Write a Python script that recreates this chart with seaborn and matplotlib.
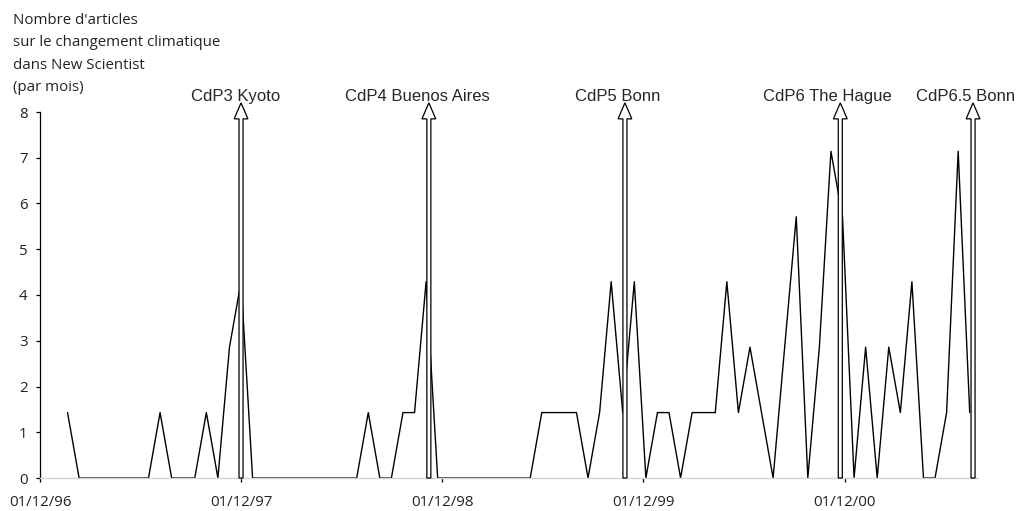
import pandas as pd
import matplotlib
matplotlib.use('Agg')
import matplotlib.pyplot as plt
import matplotlib.dates as mdates
from matplotlib.patches import FancyArrow
import seaborn as sns

# New Scientist climate articles, per month, one point every 3 weeks
first_date = '1997-01-20'
articles = [1.43, 0, 0, 0, 0, 0, 0, 0, 1.43, 0, 0, 0, 1.43, 0, 2.86, 4.29,
            0, 0, 0, 0, 0, 0, 0, 0, 0, 0, 1.43, 0, 0, 1.43, 1.43, 4.29,
            0, 0, 0, 0, 0, 0, 0, 0, 0, 1.43, 1.43, 1.43, 1.43, 0, 1.43, 4.29,
            1.43, 4.29, 0, 1.43, 1.43, 0, 1.43, 1.43, 1.43, 4.29, 1.43, 2.86, 1.43, 0, 2.86, 5.71,
            0, 2.86, 7.14, 5.71, 0, 2.86, 0, 2.86, 1.43, 4.29, 0, 0, 1.43, 7.14, 1.43]

# conferences of the parties
cop_labels = ['CdP3 Kyoto', 'CdP4 Buenos Aires', 'CdP5 Bonn', 'CdP6 The Hague', 'CdP6.5 Bonn']
cop_dates = ['1997-12-01', '1998-11-07', '1999-10-29', '2000-11-23', '2001-07-22']
label_shift = [-5, -11, -7, -13, -7]  # pixels, label centre vs arrow

tick_dates = ['1996-12-01', '1997-12-01', '1998-12-01', '1999-12-01', '2000-12-01']
ylabel_lines = ["Nombre d'articles", "sur le changement climatique",
                "dans New Scientist", "(par mois)"]

df = pd.DataFrame({'date': pd.date_range(first_date, periods=len(articles), freq='21D'),
                   'articles': articles})

sns.set_style('white')
plt.rcParams['font.family'] = ['Open Sans', 'DejaVu Sans']

fig = plt.figure(figsize=(10.18, 5.11), dpi=100)
ax = fig.add_axes([40 / 1018, 33 / 511, 938 / 1018, 366 / 511])

sns.lineplot(data=df, x='date', y='articles', color='black', linewidth=1.0, ax=ax, zorder=2)

# hollow arrows for each conference
for lab, d, sh in zip(cop_labels, cop_dates, label_shift):
    xd = mdates.date2num(pd.Timestamp(d))
    arr = FancyArrow(xd, 0, 0, 8.2, width=7.3, head_width=25, head_length=0.35,
                     length_includes_head=True, facecolor='white', edgecolor='black',
                     linewidth=0.9, clip_on=False, zorder=3)
    ax.add_patch(arr)
    ax.annotate(lab, xy=(xd, 8.25), xytext=(sh * 0.72, 0), textcoords='offset points',
                ha='center', va='baseline', fontsize=12, family='Liberation Sans',
                annotation_clip=False)

ax.set_xlim(pd.Timestamp('1996-12-01'), pd.Timestamp('2001-07-31'))
ax.set_ylim(0, 8)
ax.set_yticks(range(0, 9))
ax.set_xticks(pd.to_datetime(tick_dates))
ax.xaxis.set_major_formatter(mdates.DateFormatter('%d/%m/%y'))
ax.set_xlabel('')
ax.set_ylabel('')

for s in ['top', 'right']:
    ax.spines[s].set_visible(False)
ax.spines['left'].set_color('black')
ax.spines['left'].set_linewidth(0.9)
ax.spines['bottom'].set_color('#d4d4d4')
ax.spines['bottom'].set_linewidth(1.0)

ax.tick_params(axis='y', left=True, length=3, width=0.9, color='black', pad=6,
               labelsize=10.8, labelcolor='#222222')
ax.tick_params(axis='x', bottom=True, length=3, width=0.9, color='black', pad=9,
               labelsize=10.8, labelcolor='#222222')

# multi-line axis title at the top left
for i, line in enumerate(ylabel_lines):
    fig.text(13 / 1018, 1 - (24 + i * 22.3) / 511, line, fontsize=10.8,
             color='#222222', va='baseline', ha='left')

fig.savefig('out.png', dpi=100)
